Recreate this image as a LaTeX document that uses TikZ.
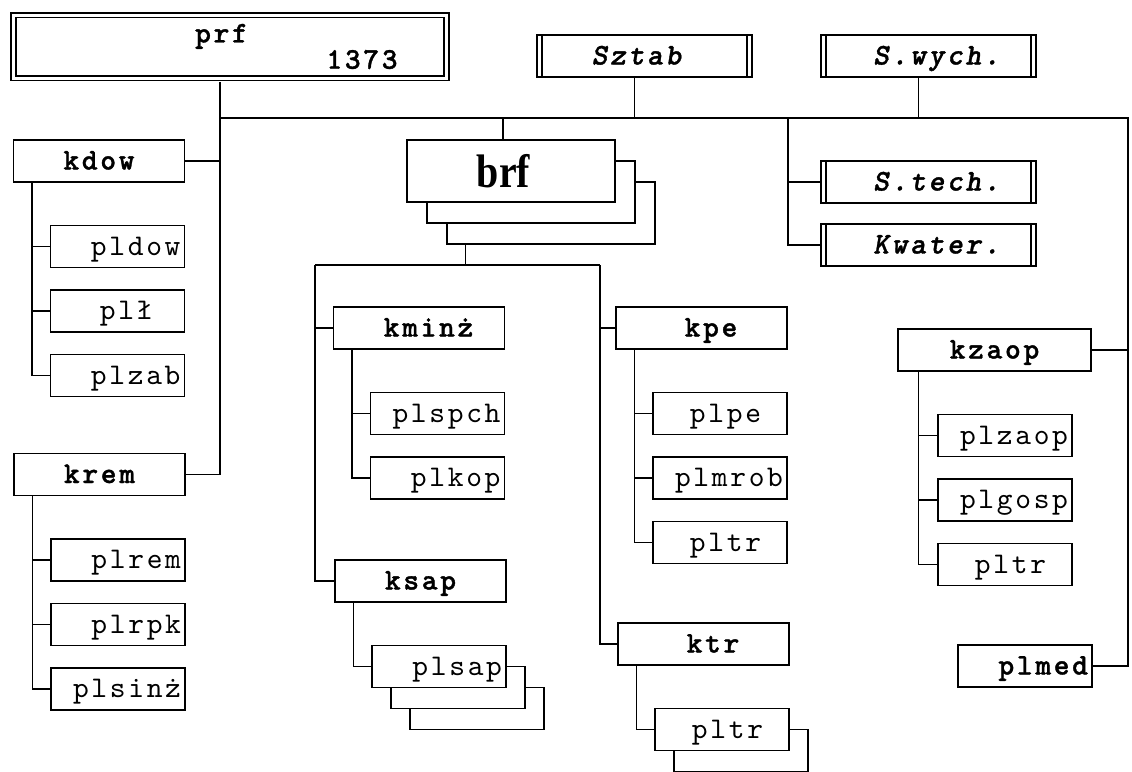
\documentclass[tikz,border=0pt]{standalone}
\usepackage{fontspec}
\newfontfamily\dotfont{lmmono10-regular.otf}[LetterSpace=9,
	BoldFont=lmmonolt10-bold.otf,
	BoldItalicFont=lmmonolt10-boldoblique.otf,
	ItalicFont=lmmono10-italic.otf,
	BoldFeatures={FakeBold=1.2},
	BoldItalicFeatures={FakeBold=1.2}]
\newfontfamily\brffont{Liberation Serif}[FakeStretch=0.85]
\usetikzlibrary{positioning, shadows}
\newcommand{\pad}[1][22pt]{\kern#1\relax}
\tikzstyle{Line} = [line width=1.5pt]
\tikzstyle{Box} = [draw, fill=white, line width=1.5pt, minimum height=42pt,
	text height=17pt, text depth=0pt, inner ysep=0pt]
\tikzstyle{kbox} = [Box, minimum width=171pt,
	font=\dotfont\fontsize{30pt}{30pt}\selectfont\bfseries]
\tikzstyle{plbox} = [Box, text width=126pt, inner xsep=4pt, align=right,
	font=\dotfont\fontsize{30pt}{30pt}\selectfont]
\tikzstyle{sbox} = [Box, minimum width=215pt,
	font=\dotfont\fontsize{30pt}{30pt}\selectfont\bfseries\itshape,
	path picture={
		\draw[line width=1.5pt]
		([xshift=5pt]path picture bounding box.south west) -- ([xshift=5pt]path picture bounding box.north west)
		([xshift=-5pt]path picture bounding box.south east) -- ([xshift=-5pt]path picture bounding box.north east);
	}]
\tikzstyle{stack} = [copy shadow={shadow xshift=#1*2, shadow yshift=-42pt, draw, fill=white, line width=1.5pt},
	copy shadow={shadow xshift=#1, shadow yshift=-21pt, draw, fill=white, line width=1.5pt}]

\begin{document}
\begin{tikzpicture}[x=1pt, y=-1pt]
	\useasboundingbox (0,0) rectangle (1132,771);
	
	% top row
	\node [draw, fill=white, double, double distance=3pt, line width=1.6pt,
	minimum width=433pt, minimum height=63pt, align=center,
	font=\dotfont\fontsize{30pt}{20pt}\selectfont\bfseries]
	(prf) at (230,46.5) {prf\hspace*{17pt}\\\hspace*{264pt}1373};
	\node [sbox] (Sztab) at (644.5,56) {Sztab\hspace*{16pt}};
	\node [sbox] (Swych) at (928.5,56) {\hspace*{16pt}S.wych.};
	\node [sbox] (Stech) at (928.5,182) {\hspace*{16pt}S.tech.};
	\node [sbox] (Kwater) at (928.5,245) {\hspace*{16pt}Kwater.};
	
	\node [Box, stack=20pt, minimum width=208pt, minimum height=62pt,
	text height=32pt, font=\brffont\fontsize{47pt}{47pt}\selectfont\bfseries]
	(brf) at (511,171) {brf\hspace*{15pt}};
	
	% left column
	\node [kbox] (kdow) at (99,161) {kdow};
	\node [plbox, below=42pt of kdow.south east, anchor=north east] (pldow) {pldow};
	\node [plbox, below=21pt of pldow] (pll) {plł\pad[28pt]};
	\node [plbox, below=21pt of pll] (plzab) {plzab};
	
	\node [kbox] (krem) at (99.5,474.5) {krem};
	\node [plbox, below=42pt of krem.south east, anchor=north east] (plrem) {plrem};
	\node [plbox, below=21pt of plrem] (plrpk) {plrpk};
	\node [plbox, below=21pt of plrpk] (plsinz) {plsinż};
	
	% under brf
	\node [kbox] (kminz) at (419,328) {\hspace*{19pt}kminż};
	\node [plbox, below=42pt of kminz.south east, anchor=north east] (plspch) {plspch};
	\node [plbox, below=21pt of plspch] (plkop) {plkop};
	
	\node [kbox] (ksap) at (420.5,581) {ksap};
	\node [plbox, stack=19pt, below=42pt of ksap.south east, anchor=north east] (plsap) {plsap};
	
	\node [kbox] (kpe) at (701.5,328) {\hspace*{19pt}kpe};
	\node [plbox, below=42pt of kpe.south east, anchor=north east] (plpe) {plpe\pad};
	\node [plbox, below=21pt of plpe] (plmrob) {plmrob};
	\node [plbox, below=21pt of plmrob] (pltrA) {pltr\pad};
	
	\node [kbox] (ktr) at (703.5,644) {\hspace*{19pt}ktr};
	\node [plbox, copy shadow={shadow xshift=19pt, shadow yshift=-21pt, draw, fill=white, line width=1.5pt},
	below=42pt of ktr.south east, anchor=north east] (pltrB) {pltr\pad};
	
	% right column
	\node [kbox, minimum width=193pt] (kzaop) at (994.5,350) {kzaop};
	\node [plbox, below=42pt of kzaop.south west, anchor=north west, xshift=40pt] (plzaop) {plzaop};
	\node [plbox, below=21pt of plzaop] (plgosp) {plgosp};
	\node [plbox, below=21pt of plgosp] (pltrC) {pltr\pad};
	
	\node [plbox, font=\dotfont\fontsize{30pt}{30pt}\selectfont\bfseries] (plmed) at (1025,666) {plmed};
	
	% main bus
	\coordinate (busL) at (220,118);
	\coordinate (busR) at (1128,118);
	\coordinate (stbr) at (788,118);
	\draw[Line] (busL) -- (busR) |- (plmed.east);
	\draw[Line] ([xshift=-10pt,yshift=-3pt]prf.south) |- (krem.east);
	\draw[Line] (kdow.east) -- (kdow.east -| busL);
	\draw[Line] ([xshift=-10pt]Sztab.south) -- ([xshift=-10pt]Sztab.south |- busL);
	\draw[Line] ([xshift=-10pt]Swych.south) -- ([xshift=-10pt]Swych.south |- busL);
	\draw[Line] ([xshift=-8pt]brf.north) -- ([xshift=-8pt]brf.north |- busL);
	\draw[Line] (stbr) |- (Kwater.west);
	\draw[Line] (Stech.west) -- (Stech.west -| stbr);
	\draw[Line] (kzaop.east) -- (kzaop.east -| busR);
	
	% bus under brf
	\coordinate (brfout) at ([xshift=59pt,yshift=-42pt]brf.south west);
	\coordinate (subL) at (315,265);
	\coordinate (subR) at (600,265);
	\draw[Line] (brfout) -- (brfout |- subL);
	\draw[Line] (subL) -- (subR);
	\draw[Line] (subL) |- (ksap.west);
	\draw[Line] (kminz.west) -- (kminz.west -| subL);
	\draw[Line] (subR) |- (ktr.west);
	\draw[Line] (kpe.west) -- (kpe.west -| subR);
	
	% sections
	\draw[Line] ([xshift=19pt]kdow.south west) |- (pldow.west)
	([xshift=19pt]kdow.south west) |- (pll.west)
	([xshift=19pt]kdow.south west) |- (plzab.west);
	\draw[Line] ([xshift=19pt]krem.south west) |- (plrem.west)
	([xshift=19pt]krem.south west) |- (plrpk.west)
	([xshift=19pt]krem.south west) |- (plsinz.west);
	\draw[Line] ([xshift=19pt]kminz.south west) |- (plspch.west)
	([xshift=19pt]kminz.south west) |- (plkop.west);
	\draw[Line] ([xshift=19pt]ksap.south west) |- (plsap.west);
	\draw[Line] ([xshift=19pt]kpe.south west) |- (plpe.west)
	([xshift=19pt]kpe.south west) |- (plmrob.west)
	([xshift=19pt]kpe.south west) |- (pltrA.west);
	\draw[Line] ([xshift=19pt]ktr.south west) |- (pltrB.west);
	\draw[Line] ([xshift=21pt]kzaop.south west) |- (plzaop.west)
	([xshift=21pt]kzaop.south west) |- (plgosp.west)
	([xshift=21pt]kzaop.south west) |- (pltrC.west);
\end{tikzpicture}
\end{document}
